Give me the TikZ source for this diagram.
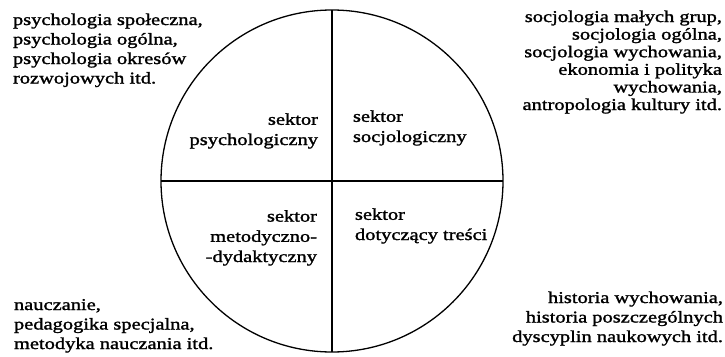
\documentclass[tikz,border=0pt]{standalone}
\usepackage{fontspec}
\setmainfont[FakeStretch=1.24,FakeBold=1.5]{Liberation Serif}
\begin{document}
\begin{tikzpicture}[x=1pt,y=-1pt,
  every node/.style={inner sep=0pt,outer sep=0pt},
  wide/.style={font=\fontsize{16.5}{19.5}\selectfont},
  sect/.style={font=\fontsize{16.5}{20.2}\selectfont},
  tight/.style={font=\fontsize{16.5}{17.6}\selectfont},
  line/.style={line width=1.3pt}]
\useasboundingbox (0,0) rectangle (725,356);
\node[circle, draw, line, minimum size=342pt] (c) at (332,181) {};
\draw[line] (c.north) -- (c.south);
\draw[line] (c.west) -- (c.east);
\node[wide, align=left, anchor=base west] (tl) at (13,83.5)
  {psychologia społeczna,\\psychologia ogólna,\\psychologia okresów\\rozwojowych itd.};
\node[tight, align=right, anchor=base east] (tr) at (722,110)
  {socjologia małych grup,\\socjologia ogólna,\\socjologia wychowania,\\ekonomia i polityka\\wychowania,\\antropologia kultury itd.};
\node[wide, align=left, anchor=base west] (bl) at (14,349)
  {nauczanie,\\pedagogika specjalna,\\metodyka nauczania itd.};
\node[wide, align=right, anchor=base east] (br) at (723,342)
  {historia wychowania,\\historia poszczególnych\\dyscyplin naukowych itd.};
\node[sect, align=right, anchor=base east] (s1) at (318,145) {sektor\\psychologiczny};
\node[sect, align=left, anchor=base west] (s2) at (353,142) {sektor\\socjologiczny};
\node[sect, align=right, anchor=base east] (s3) at (317,262) {sektor\\metodyczno-\\-dydaktyczny};
\node[sect, align=left, anchor=base west] (s4) at (355,240) {sektor\\dotyczący treści};
\end{tikzpicture}
\end{document}
